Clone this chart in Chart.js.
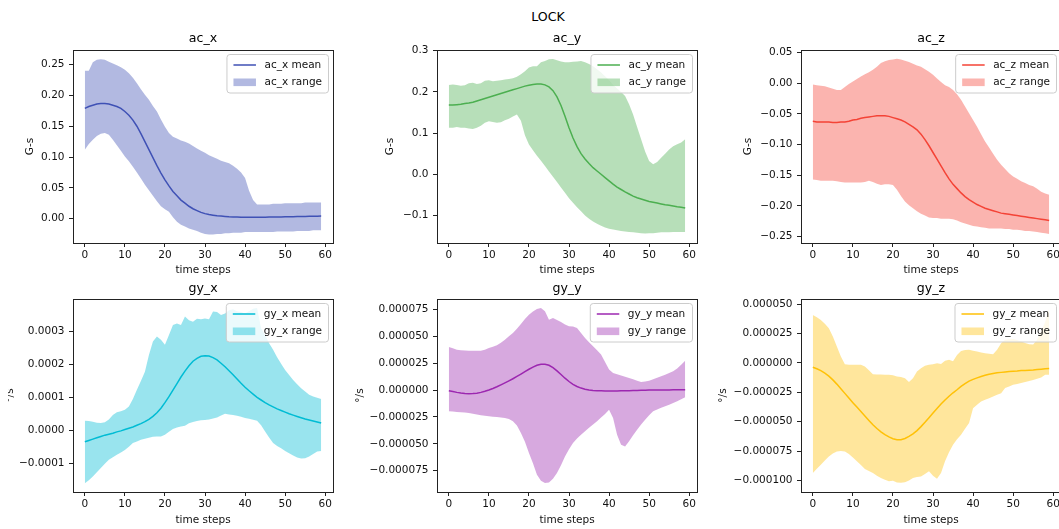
<!DOCTYPE html>
<html><head><meta charset="utf-8">
<script src="https://cdn.jsdelivr.net/npm/chart.js@4"></script>
<style>
html,body{margin:0;padding:0;background:#fff;overflow:hidden;width:1059px;height:529px;}
canvas{position:absolute;}
#sup{position:absolute;left:0;width:1096px;top:9px;text-align:center;font-family:'DejaVu Sans';font-size:12.6px;line-height:16px;color:#000;}
</style></head><body>
<div id="sup">LOCK</div>
<script>
// ---------- data ----------
const steps = Array.from({length: 60}, (_, i) => i);
const xTickValues = [0, 10, 20, 30, 40, 50, 60];

const acXMean = [0.179,0.182,0.184,0.186,0.187,0.187,0.186,0.184,0.182,0.179,
 0.174,0.168,0.160,0.150,0.138,0.125,0.112,0.099,0.086,0.074,
 0.063,0.053,0.044,0.037,0.030,0.025,0.020,0.016,0.013,0.010,
 0.008,0.0065,0.0055,0.0045,0.004,0.0035,0.003,0.0027,0.0025,0.0023,
 0.0022,0.0021,0.0021,0.0021,0.0022,0.0023,0.0024,0.0025,0.0026,0.0027,
 0.0028,0.0030,0.0031,0.0032,0.0034,0.0035,0.0036,0.0038,0.0039,0.0040];
const acXMax = [0.240,0.240,0.254,0.258,0.259,0.258,0.255,0.252,0.249,0.246,
 0.242,0.236,0.229,0.220,0.210,0.201,0.193,0.183,0.174,0.161,
 0.149,0.139,0.133,0.130,0.127,0.125,0.122,0.118,0.114,0.110,
 0.107,0.103,0.100,0.097,0.094,0.092,0.090,0.086,0.081,0.075,
 0.066,0.045,0.030,0.023,0.023,0.023,0.023,0.024,0.024,0.024,
 0.025,0.025,0.025,0.025,0.025,0.026,0.026,0.026,0.026,0.026];
const acXMin = [0.112,0.121,0.128,0.134,0.138,0.139,0.136,0.128,0.119,0.110,
 0.101,0.093,0.084,0.075,0.065,0.055,0.046,0.037,0.028,0.020,
 0.015,0.011,0.002,-0.005,-0.010,-0.013,-0.016,-0.018,-0.020,-0.023,
 -0.025,-0.026,-0.026,-0.025,-0.025,-0.024,-0.024,-0.023,-0.023,-0.023,
 -0.022,-0.022,-0.022,-0.022,-0.022,-0.022,-0.022,-0.022,-0.021,-0.021,
 -0.021,-0.021,-0.021,-0.020,-0.020,-0.020,-0.020,-0.019,-0.019,-0.019];

const acYMean = [0.168,0.168,0.169,0.170,0.172,0.173,0.175,0.178,0.181,0.184,
 0.187,0.190,0.193,0.196,0.199,0.202,0.205,0.208,0.211,0.214,
 0.216,0.218,0.219,0.219,0.217,0.212,0.203,0.188,0.167,0.141,
 0.113,0.088,0.067,0.050,0.037,0.026,0.016,0.008,0.000,-0.008,
 -0.016,-0.024,-0.031,-0.037,-0.043,-0.048,-0.053,-0.057,-0.060,-0.063,
 -0.066,-0.068,-0.070,-0.072,-0.074,-0.075,-0.077,-0.079,-0.080,-0.082];
const acYMax = [0.217,0.218,0.217,0.215,0.216,0.221,0.222,0.219,0.221,0.227,
 0.228,0.226,0.227,0.228,0.230,0.231,0.233,0.237,0.243,0.250,
 0.259,0.262,0.262,0.272,0.275,0.279,0.280,0.277,0.274,0.272,
 0.272,0.273,0.274,0.275,0.272,0.268,0.262,0.255,0.247,0.238,
 0.228,0.217,0.208,0.200,0.190,0.170,0.145,0.115,0.085,0.055,
 0.032,0.024,0.030,0.040,0.050,0.060,0.068,0.073,0.077,0.085];
const acYMin = [0.113,0.113,0.115,0.113,0.113,0.111,0.110,0.113,0.118,0.125,
 0.129,0.127,0.125,0.126,0.131,0.135,0.140,0.145,0.130,0.095,
 0.072,0.058,0.045,0.033,0.020,0.007,-0.006,-0.019,-0.032,-0.045,
 -0.058,-0.069,-0.080,-0.090,-0.100,-0.108,-0.115,-0.120,-0.125,-0.129,
 -0.132,-0.134,-0.136,-0.138,-0.139,-0.140,-0.141,-0.142,-0.143,-0.144,
 -0.143,-0.143,-0.142,-0.141,-0.141,-0.141,-0.140,-0.140,-0.140,-0.140];

const acZMean = [-0.062,-0.063,-0.063,-0.063,-0.063,-0.064,-0.064,-0.063,-0.063,-0.062,
 -0.060,-0.059,-0.057,-0.056,-0.055,-0.054,-0.053,-0.053,-0.053,-0.054,
 -0.056,-0.058,-0.060,-0.063,-0.067,-0.071,-0.076,-0.083,-0.092,-0.102,
 -0.113,-0.124,-0.135,-0.146,-0.156,-0.165,-0.172,-0.179,-0.185,-0.190,
 -0.194,-0.198,-0.201,-0.204,-0.206,-0.208,-0.210,-0.212,-0.213,-0.214,
 -0.215,-0.216,-0.217,-0.218,-0.219,-0.220,-0.221,-0.222,-0.223,-0.224];
const acZMax = [-0.002,-0.003,-0.004,-0.005,-0.007,-0.009,-0.011,-0.011,-0.006,-0.001,
 0.003,0.007,0.011,0.015,0.018,0.022,0.027,0.033,0.036,0.038,
 0.039,0.040,0.039,0.037,0.035,0.032,0.029,0.027,0.023,0.019,
 0.014,0.008,0.002,-0.003,-0.006,-0.011,-0.018,-0.027,-0.038,-0.049,
 -0.060,-0.071,-0.083,-0.095,-0.105,-0.115,-0.125,-0.133,-0.140,-0.147,
 -0.152,-0.156,-0.160,-0.163,-0.166,-0.168,-0.172,-0.177,-0.180,-0.182];
const acZMin = [-0.157,-0.158,-0.159,-0.159,-0.159,-0.159,-0.160,-0.161,-0.162,-0.162,
 -0.162,-0.162,-0.162,-0.161,-0.159,-0.161,-0.164,-0.166,-0.165,-0.165,
 -0.166,-0.174,-0.184,-0.193,-0.199,-0.204,-0.209,-0.213,-0.216,-0.219,
 -0.220,-0.220,-0.221,-0.221,-0.221,-0.222,-0.224,-0.227,-0.229,-0.231,
 -0.233,-0.234,-0.235,-0.236,-0.237,-0.237,-0.237,-0.237,-0.238,-0.238,
 -0.239,-0.239,-0.240,-0.241,-0.241,-0.242,-0.243,-0.244,-0.245,-0.246];

// gyro values in units of 1e-4 (gy_x) and 1e-6 (gy_y, gy_z)
const gyXMean_e4 = [-0.35,-0.31,-0.27,-0.23,-0.19,-0.15,-0.12,-0.09,-0.05,-0.02,
 0.02,0.06,0.10,0.15,0.20,0.26,0.33,0.42,0.53,0.67,
 0.84,1.02,1.22,1.42,1.62,1.80,1.96,2.10,2.19,2.25,
 2.27,2.26,2.21,2.14,2.04,1.93,1.81,1.69,1.56,1.43,
 1.31,1.20,1.10,1.00,0.92,0.84,0.77,0.71,0.65,0.60,
 0.55,0.50,0.46,0.42,0.38,0.34,0.31,0.28,0.25,0.22];
const gyXMax_e4 = [0.29,0.28,0.26,0.23,0.22,0.24,0.33,0.46,0.55,0.58,
 0.62,0.72,0.95,1.23,1.50,1.78,2.29,2.70,2.85,2.75,
 2.60,2.90,3.20,3.25,3.20,3.46,3.35,3.30,3.39,3.38,
 3.40,3.38,3.61,3.60,3.51,3.55,3.65,3.68,3.62,3.60,
 3.55,3.62,3.70,3.72,3.10,2.90,2.65,2.45,2.22,2.02,
 1.83,1.68,1.53,1.40,1.28,1.18,1.08,1.03,0.99,0.95];
const gyXMin_e4 = [-1.61,-1.52,-1.41,-1.28,-1.15,-1.02,-0.90,-0.82,-0.75,-0.68,
 -0.60,-0.50,-0.39,-0.34,-0.29,-0.26,-0.23,-0.20,-0.19,-0.19,
 -0.14,-0.05,0.04,0.08,0.11,0.14,0.21,0.25,0.28,0.30,
 0.31,0.33,0.36,0.39,0.45,0.50,0.48,0.46,0.44,0.41,
 0.37,0.35,0.32,0.29,0.15,-0.04,-0.22,-0.39,-0.48,-0.55,
 -0.63,-0.70,-0.77,-0.83,-0.86,-0.85,-0.80,-0.72,-0.65,-0.63];

const gyYMean_e6 = [-0.6,-1.4,-2.2,-2.8,-3.2,-3.4,-3.3,-2.9,-2.2,-1.2,
 0.0,1.4,3.0,4.8,6.6,8.5,10.5,12.6,14.8,17.0,
 19.3,21.3,23.0,24.0,24.0,23.0,20.8,17.8,14.4,11.0,
 7.9,5.3,3.3,1.8,0.7,0.0,-0.4,-0.7,-0.8,-0.9,
 -0.9,-0.9,-0.9,-0.8,-0.7,-0.6,-0.5,-0.4,-0.3,-0.2,
 -0.1,0.0,0.0,0.1,0.1,0.1,0.2,0.2,0.2,0.3];
const gyYMax_e6 = [40.0,38.8,37.5,37.0,36.8,36.6,36.6,36.6,36.6,37.5,
 39.1,40.2,41.5,44.0,46.8,50.0,53.0,57.0,61.4,66.0,
 70.0,73.0,75.3,76.2,73.1,65.4,66.9,65.0,63.2,61.0,
 59.2,59.0,57.6,53.0,48.4,44.5,40.6,37.0,32.9,26.0,
 19.0,15.8,14.7,13.6,12.4,11.2,10.0,8.6,7.4,8.0,
 8.7,10.0,11.4,12.7,14.3,15.8,17.4,20.0,23.5,27.3];
const gyYMin_e6 = [-19.8,-20.0,-20.4,-20.6,-21.0,-21.4,-22.0,-22.8,-23.5,-24.0,
 -24.5,-24.8,-25.0,-25.5,-26.0,-27.0,-29.1,-33.0,-40.0,-48.0,
 -58.6,-68.0,-78.7,-84.3,-86.5,-86.0,-82.5,-77.1,-70.0,-61.7,
 -55.0,-49.3,-45.0,-41.5,-38.4,-35.0,-32.0,-29.1,-25.5,-22.3,
 -18.3,-26.0,-41.5,-50.8,-52.4,-47.7,-42.0,-36.9,-32.0,-27.6,
 -23.5,-19.8,-18.0,-16.5,-15.2,-13.6,-12.0,-10.5,-8.6,-6.8];

const gyZMean_e6 = [-3.7,-4.9,-6.5,-8.6,-11.2,-14.4,-18.0,-21.9,-25.9,-29.9,
 -33.8,-37.6,-41.3,-45.1,-48.9,-52.6,-55.8,-58.7,-61.1,-63.0,
 -64.5,-65.4,-65.3,-64.3,-62.6,-60.4,-57.6,-54.2,-50.5,-46.6,
 -42.6,-38.7,-35.0,-31.5,-28.3,-25.4,-22.8,-19.9,-17.5,-15.5,
 -14.0,-12.7,-11.5,-10.5,-9.6,-8.9,-8.4,-8.0,-7.6,-7.3,
 -7.0,-6.8,-6.5,-6.3,-6.1,-5.9,-5.6,-5.3,-5.0,-4.7];
const gyZMax_e6 = [40.9,39.0,36.7,33.5,29.6,22.5,14.0,5.5,-1.0,-1.6,
 -1.6,-1.5,-1.6,-3.0,-6.1,-9.5,-9.8,-9.8,-10.0,-10.1,
 -10.5,-11.5,-12.0,-12.9,-16.3,-12.9,-7.3,-4.5,-2.3,-1.5,
 -1.1,-0.3,-0.8,1.9,2.7,1.5,6.9,10.3,11.0,11.2,
 10.5,9.7,9.0,8.3,7.8,7.5,11.2,16.8,19.7,20.3,
 20.5,19.5,18.2,17.0,16.0,15.8,19.7,27.0,35.0,46.5];
const gyZMin_e6 = [-93.7,-90.0,-86.7,-83.0,-79.6,-77.0,-75.3,-75.0,-75.3,-77.6,
 -80.5,-83.8,-87.0,-90.3,-92.0,-93.7,-96.0,-98.0,-99.5,-100.8,
 -100.3,-101.9,-102.0,-101.5,-100.0,-98.0,-97.2,-96.6,-94.5,-92.3,
 -96.0,-98.6,-93.7,-83.8,-76.0,-69.6,-65.0,-61.1,-56.0,-51.2,
 -38.5,-35.5,-32.8,-31.4,-30.0,-28.5,-27.1,-25.7,-21.4,-20.0,
 -18.6,-17.8,-17.0,-16.3,-15.4,-14.4,-13.5,-12.3,-10.1,-10.1];

// tick values per panel
const acXTicks = [0, 0.05, 0.10, 0.15, 0.20, 0.25];
const acYTicks = [-0.1, 0, 0.1, 0.2, 0.3];
const acZTicks = [-0.25, -0.20, -0.15, -0.10, -0.05, 0, 0.05];
const gyXTicks = [-0.0001, 0, 0.0001, 0.0002, 0.0003];
const gyYTicks = [-0.000075, -0.00005, -0.000025, 0, 0.000025, 0.00005, 0.000075];
const gyZTicks = [-0.0001, -0.000075, -0.00005, -0.000025, 0, 0.000025, 0.00005];

// axis ranges
const acXRange = [-0.0397, 0.2739];
const acYRange = [-0.1669, 0.3017];
const acZRange = [-0.2608, 0.0544];
const gyXRange = [-0.000188, 0.0003994];
const gyYRange = [-0.0000948, 0.0000846];
const gyZRange = [-0.0001099, 0.0000545];

const E4 = 1e-4, E6 = 1e-6;
const panels = [
  {name:'ac_x', unit:'G-s', color:'#3F51B5', mean:acXMean, max:acXMax, min:acXMin, ticks:acXTicks, dec:2, range:acXRange},
  {name:'ac_y', unit:'G-s', color:'#4CAF50', mean:acYMean, max:acYMax, min:acYMin, ticks:acYTicks, dec:1, range:acYRange},
  {name:'ac_z', unit:'G-s', color:'#F44336', mean:acZMean, max:acZMax, min:acZMin, ticks:acZTicks, dec:2, range:acZRange},
  {name:'gy_x', unit:'°/s', color:'#00BCD4', mean:gyXMean_e4.map(v=>v*E4), max:gyXMax_e4.map(v=>v*E4), min:gyXMin_e4.map(v=>v*E4), ticks:gyXTicks, dec:4, range:gyXRange},
  {name:'gy_y', unit:'°/s', color:'#9C27B0', mean:gyYMean_e6.map(v=>v*E6), max:gyYMax_e6.map(v=>v*E6), min:gyYMin_e6.map(v=>v*E6), ticks:gyYTicks, dec:6, range:gyYRange},
  {name:'gy_z', unit:'°/s', color:'#FFC107', mean:gyZMean_e6.map(v=>v*E6), max:gyZMax_e6.map(v=>v*E6), min:gyZMin_e6.map(v=>v*E6), ticks:gyZTicks, dec:6, range:gyZRange},
];

// ---------- layout ----------
const FAMILY = "'DejaVu Sans'";
const TICK_SIZE = 10.5, TITLE_SIZE = 12.6;
const AW = 260, AH = 193, YW = 90, TOPH = 22, XH = 36, PR = 14;
const slots = [
  {left:73,  top:50,  labelX:30,    titleY:39,  xTitleY:270},
  {left:437, top:50,  labelX:390.7, titleY:39,  xTitleY:270},
  {left:801, top:50,  labelX:748.3, titleY:39,  xTitleY:270},
  {left:73,  top:299, labelX:10,    titleY:289, xTitleY:520.5, clipLeft:8},
  {left:437, top:299, labelX:360,   titleY:289, xTitleY:520.5},
  {left:801, top:299, labelX:723.3, titleY:289, xTitleY:520.5},
];

Chart.defaults.font.family = FAMILY;

function rgba(hex, a) {
  const n = parseInt(hex.slice(1), 16);
  return `rgba(${(n>>16)&255},${(n>>8)&255},${n&255},${a})`;
}
function fmt(v, dec) {
  let s = Math.abs(v) < 1e-12 ? (0).toFixed(dec) : v.toFixed(dec);
  return s.replace('-', '\u2212');
}

const framePlugin = {
  id: 'frame',
  afterDatasetsDraw(chart) {
    const {ctx, chartArea: a} = chart;
    ctx.save();
    ctx.strokeStyle = '#222';
    ctx.lineWidth = 1;
    ctx.strokeRect(a.left + 0.5, a.top + 0.5, a.right - a.left, a.bottom - a.top);
    ctx.restore();
  }
};

const legendPlugin = {
  id: 'mplLegend',
  afterDatasetsDraw(chart) {
    const {ctx, chartArea: a} = chart;
    const items = chart.data.datasets.filter(d => d.label);
    ctx.save();
    ctx.font = `${TICK_SIZE}px ${FAMILY}`;
    const tw = Math.max(...items.map(d => ctx.measureText(d.label).width));
    const padL = 6.5, handle = 22.5, gap = 8.5, padR = 6.5, rowGap = 17.3;
    const w = padL + handle + gap + tw + padR, h = 38.5;
    const right = a.right - 4.5, top = a.top + 4.5, left = right - w;
    ctx.beginPath();
    ctx.roundRect(left, top, w, h, 3);
    ctx.fillStyle = 'rgba(255,255,255,0.8)';
    ctx.fill();
    ctx.strokeStyle = '#cccccc';
    ctx.lineWidth = 1;
    ctx.stroke();
    items.forEach((d, i) => {
      const cy = top + 10.5 + i * rowGap;
      const hx = left + padL;
      if (d.fill) {
        ctx.fillStyle = d.backgroundColor;
        ctx.fillRect(hx, cy - 3.8, handle, 7.6);
      } else {
        ctx.strokeStyle = d.borderColor;
        ctx.lineWidth = d.borderWidth;
        ctx.beginPath(); ctx.moveTo(hx, cy); ctx.lineTo(hx + handle, cy); ctx.stroke();
      }
      ctx.fillStyle = '#111';
      ctx.textBaseline = 'middle';
      ctx.textAlign = 'left';
      ctx.fillText(d.label, hx + handle + gap, cy);
    });
    ctx.restore();
  }
};

function build(p, s) {
  const canvas = document.createElement('canvas');
  const cw = YW + AW + PR, ch = TOPH + AH + XH;
  const cLeft = s.left - YW, cTop = s.top - TOPH;
  canvas.width = cw; canvas.height = ch;
  canvas.style.left = cLeft + 'px';
  canvas.style.top = cTop + 'px';
  canvas.style.width = cw + 'px';
  canvas.style.height = ch + 'px';
  if (s.clipLeft !== undefined) canvas.style.clipPath = `inset(0 0 0 ${s.clipLeft - cLeft}px)`;
  document.body.appendChild(canvas);

  const tl = TITLE_SIZE * 1.2, ll = TICK_SIZE * 1.2;
  const tPadTop = s.titleY - cTop - tl / 2;
  const tPadBot = TOPH - tPadTop - tl;
  const yTitlePad = s.labelX - cLeft - ll / 2;
  const xTitlePad = s.top + AH + XH - ll / 2 - s.xTitleY;
  const tickFont = {family: FAMILY, size: TICK_SIZE};

  new Chart(canvas, {
    type: 'line',
    data: {
      datasets: [
        {label: p.name + ' mean', data: steps.map((t, i) => ({x: t, y: p.mean[i]})),
         borderColor: p.color, borderWidth: 1.5, pointRadius: 0, fill: false, tension: 0},
        {label: p.name + ' range', data: steps.map((t, i) => ({x: t, y: p.max[i]})),
         borderColor: 'rgba(0,0,0,0)', borderWidth: 0, backgroundColor: rgba(p.color, 0.4),
         pointRadius: 0, fill: '+1', tension: 0},
        {label: '', data: steps.map((t, i) => ({x: t, y: p.min[i]})),
         borderColor: 'rgba(0,0,0,0)', borderWidth: 0, pointRadius: 0, fill: false, tension: 0},
      ]
    },
    options: {
      responsive: false, animation: false, devicePixelRatio: 1,
      layout: {padding: {left: 0, right: PR, top: 0, bottom: 0}},
      plugins: {
        legend: {display: false},
        tooltip: {enabled: false},
        title: {display: true, text: p.name, fullSize: false, color: '#000',
                font: {family: FAMILY, size: TITLE_SIZE, weight: 'normal'},
                padding: {top: tPadTop, bottom: tPadBot}}
      },
      scales: {
        x: {
          type: 'linear', min: -2.95, max: 61.95,
          afterBuildTicks: sc => { sc.ticks = xTickValues.map(v => ({value: v})); },
          afterFit: sc => { sc.height = XH; },
          ticks: {font: tickFont, color: '#111', padding: 2, maxRotation: 0, autoSkip: false,
                  callback: v => String(v)},
          grid: {drawOnChartArea: false, drawTicks: true, tickLength: 4, tickColor: '#222', tickWidth: 1},
          border: {display: false},
          title: {display: true, text: 'time steps', color: '#111', font: tickFont,
                  padding: {top: 0, bottom: xTitlePad}}
        },
        y: {
          type: 'linear', min: p.range[0], max: p.range[1],
          afterBuildTicks: sc => { sc.ticks = p.ticks.map(v => ({value: v})); },
          afterFit: sc => { sc.width = YW; },
          ticks: {font: tickFont, color: '#111', padding: 4.5, autoSkip: false,
                  callback: v => fmt(v, p.dec)},
          grid: {drawOnChartArea: false, drawTicks: true, tickLength: 4, tickColor: '#222', tickWidth: 1},
          border: {display: false},
          title: {display: true, text: p.unit, color: '#111', font: tickFont,
                  padding: {top: yTitlePad, bottom: 0}}
        }
      }
    },
    plugins: [framePlugin, legendPlugin]
  });
}

panels.forEach((p, i) => build(p, slots[i]));
</script>
</body></html>
